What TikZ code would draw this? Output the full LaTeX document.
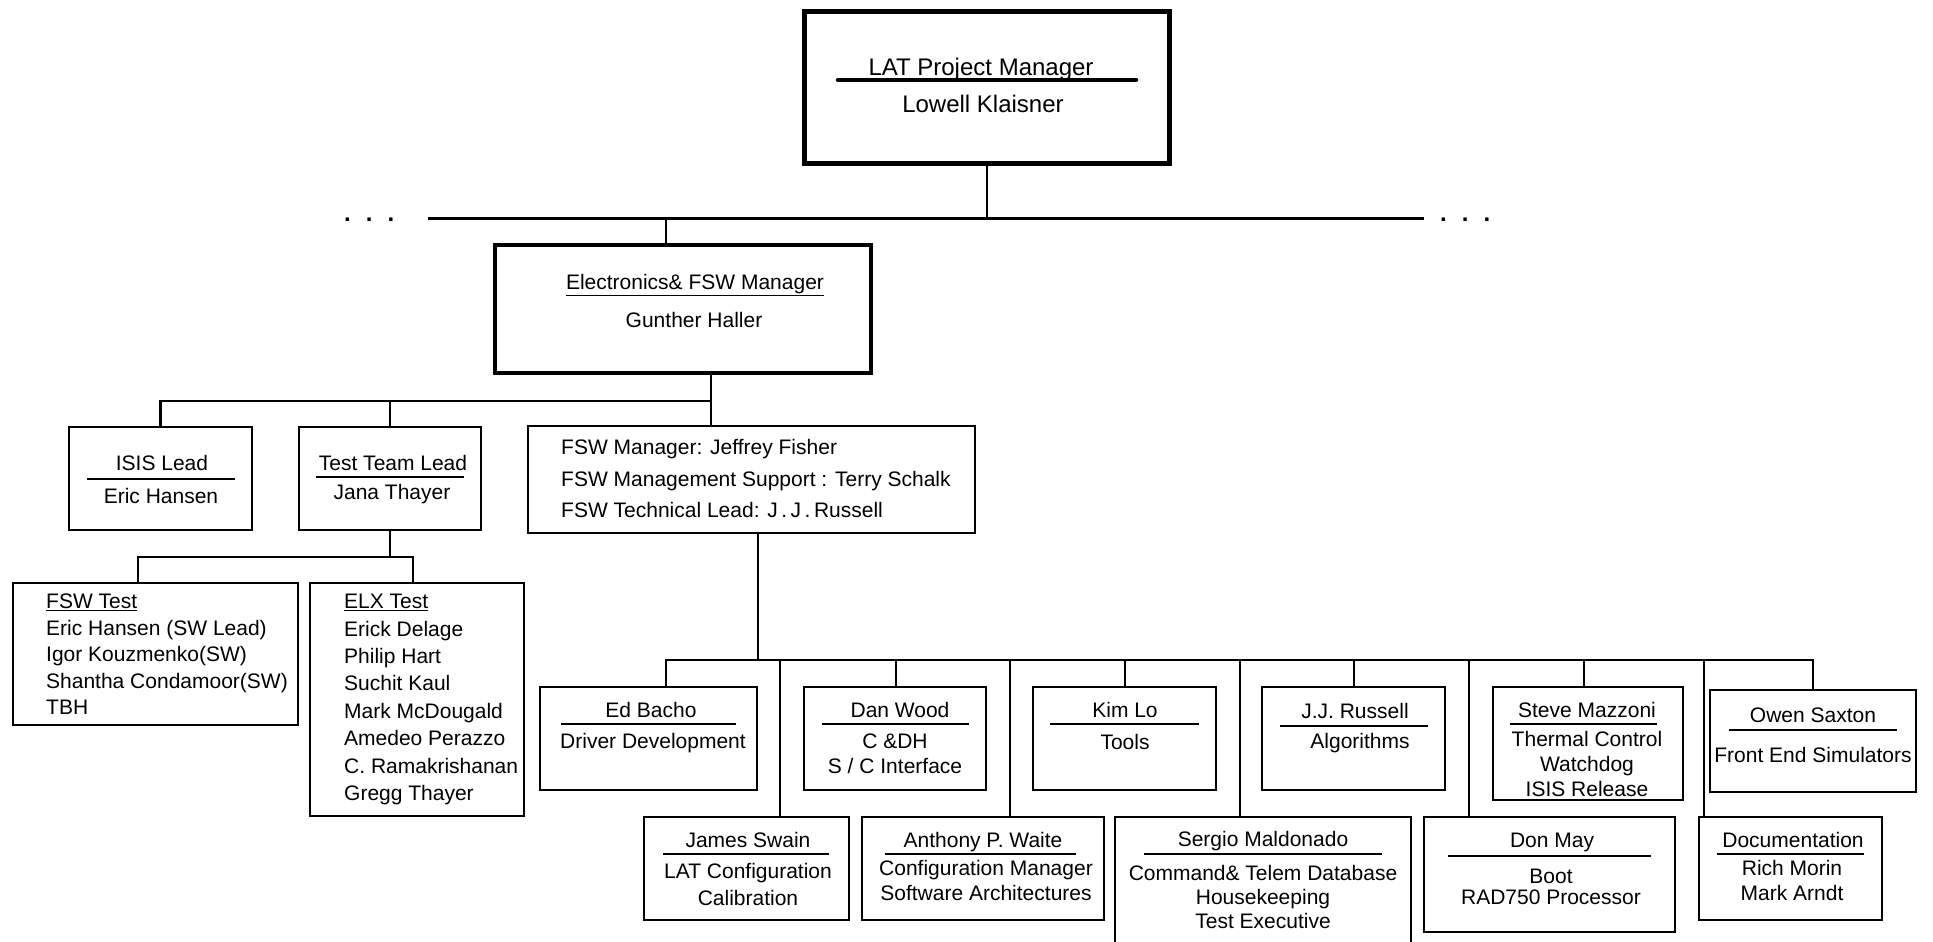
\documentclass[tikz,border=0pt]{standalone}
\usepackage{fontspec}
\setmainfont{Liberation Sans}
\usetikzlibrary{positioning}
\tikzset{
  orgbox/.style={draw, line width=2.3pt, inner sep=0pt},
  headbox/.style={draw, line width=5pt, inner sep=0pt},
  wire/.style={line width=2.3pt},
  sep/.style={line width=1.8pt},
  txt/.style={inner sep=0pt, font=\fontsize{21}{25}\selectfont},
}

\begin{document}
\begin{tikzpicture}[x=1pt, y=-1pt]
  \useasboundingbox (0,0) rectangle (1933,942);

  % Top: project manager
  \node[headbox, minimum width=365pt, minimum height=152pt] (lat) at (987,87.5) {};
  \node[txt, anchor=base, font=\fontsize{24}{28}\selectfont] (latT) at (981,76) {LAT Project Manager};
  \draw[line width=4.5pt, line cap=round] (838,80) -- (1136,80);
  \node[txt, anchor=base, font=\fontsize{24}{28}\selectfont] (latN) at (983,112) {Lowell Klaisner};

  % Top bus with the elided branches
  \coordinate (topbusL) at (428,218);
  \coordinate (topbusR) at (1424,218);
  \coordinate (jElec) at (666,218);
  \draw[line width=3pt] (topbusL) -- (topbusR);
  \draw[wire] (lat.south) -- (lat.south |- topbusL);
  \node[txt, anchor=base west, font=\bfseries\fontsize{24}{28}\selectfont] (dotsL) at (344,221) {.\hspace{15pt}.\hspace{15pt}.};
  \node[txt, anchor=base west, font=\bfseries\fontsize{24}{28}\selectfont] (dotsR) at (1440,221) {.\hspace{15pt}.\hspace{15pt}.};

  % Electronics & FSW manager
  \node[orgbox, line width=4pt, minimum width=376pt, minimum height=128pt] (elec) at (683,309) {};
  \node[txt, anchor=base] (elecT) at (695,289) {\underline{Electronics\& FSW Manager}};
  \node[txt, anchor=base] (elecN) at (694,327) {Gunther Haller};
  \draw[wire] (jElec) -- (elec.north -| jElec);

  % Second level
  \node[orgbox, minimum width=183pt, minimum height=103pt] (isis) at (160.5,478.5) {};
  \node[txt, anchor=base] (isisT) at (162,470) {ISIS Lead};
  \draw[sep] (87,479) -- (235,479);
  \node[txt, anchor=base] (isisN) at (161,503) {Eric Hansen};

  \node[orgbox, minimum width=182pt, minimum height=103pt] (test) at (390,478.5) {};
  \node[txt, anchor=base] (testT) at (393,470) {Test Team Lead};
  \draw[sep] (316,477) -- (464,477);
  \node[txt, anchor=base] (testN) at (392,499) {Jana Thayer};

  \node[orgbox, minimum width=447pt, minimum height=107pt] (fswmgr) at (751.5,479.5) {};
  \node[txt, anchor=north west, align=left, font=\fontsize{21}{31.7}\selectfont] (fswmgrT) at (561,439)
    {FSW Manager: Jeffrey Fisher\\FSW Management Support : Terry Schalk\\FSW Technical Lead: J\,.\,J\,.\,Russell};

  \coordinate (jMid) at (711,401);
  \draw[wire] (elec.south -| jMid) -- (fswmgr.north -| jMid);
  \draw[wire] (jMid) -| (isis.north);
  \draw[wire] (test.north |- jMid) -- (test.north);

  % Test teams
  \node[orgbox, minimum width=285pt, minimum height=142pt] (fswtest) at (155.5,654) {};
  \node[txt, anchor=north west, align=left, font=\fontsize{21}{26.5}\selectfont] (fswtestT) at (46,594)
    {\underline{FSW Test}\\Eric Hansen (SW Lead)\\Igor Kouzmenko(SW)\\Shantha Condamoor(SW)\\TBH};
  \node[orgbox, minimum width=214pt, minimum height=233pt] (elx) at (417,699.5) {};
  \node[txt, anchor=north west, align=left, font=\fontsize{21}{27.4}\selectfont] (elxT) at (344,594)
    {\underline{ELX Test}\\Erick Delage\\Philip Hart\\Suchit Kaul\\Mark McDougald\\Amedeo Perazzo\\C. Ramakrishanan\\Gregg Thayer};

  \coordinate (jTestL) at (138,557);
  \coordinate (jTestR) at (413,557);
  \draw[wire] (test.south) -- (test.south |- jTestL);
  \draw[wire] (fswtest.north -| jTestL) |- (jTestR) -- (elx.north -| jTestR);

  % FSW teams, upper row
  \node[orgbox, minimum width=217pt, minimum height=103pt] (ed) at (648.5,738.5) {};
  \node[txt, anchor=base] (edT) at (651,717) {Ed Bacho};
  \draw[sep] (561,724) -- (736,724);
  \node[txt, anchor=base] (edB) at (653,748) {Driver Development};

  \node[orgbox, minimum width=182pt, minimum height=103pt] (dan) at (895,738.5) {};
  \node[txt, anchor=base] (danT) at (900,717) {Dan Wood};
  \draw[sep] (822,724) -- (969,724);
  \node[txt, anchor=north, align=center] (danB) at (895,734) {C \&DH\\S / C Interface};

  \node[orgbox, minimum width=183pt, minimum height=103pt] (kim) at (1124.5,738.5) {};
  \node[txt, anchor=base] (kimT) at (1125,717) {Kim Lo};
  \draw[sep] (1050,724) -- (1199,724);
  \node[txt, anchor=base] (kimB) at (1125,749) {Tools};

  \node[orgbox, minimum width=183pt, minimum height=103pt] (jj) at (1353.5,738.5) {};
  \node[txt, anchor=base] (jjT) at (1355,718) {J.J. Russell};
  \draw[sep] (1280,726) -- (1428,726);
  \node[txt, anchor=base] (jjB) at (1360,748) {Algorithms};

  \node[orgbox, minimum width=190pt, minimum height=113pt] (steve) at (1588,743.5) {};
  \node[txt, anchor=base] (steveT) at (1587,717) {Steve Mazzoni};
  \draw[sep] (1510,724) -- (1657,724);
  \node[txt, anchor=north, align=center, font=\fontsize{21}{24.8}\selectfont] (steveB) at (1587,731)
    {Thermal Control\\Watchdog\\ISIS Release};

  \node[orgbox, minimum width=206pt, minimum height=102pt] (owen) at (1813,741) {};
  \node[txt, anchor=base] (owenT) at (1813,722) {Owen Saxton};
  \draw[sep] (1729,730) -- (1897,730);
  \node[txt, anchor=base] (owenB) at (1813,762) {Front End Simulators};

  % FSW teams, lower row
  \node[orgbox, minimum width=205pt, minimum height=103pt] (james) at (746.5,868.5) {};
  \node[txt, anchor=base] (jamesT) at (748,847) {James Swain};
  \draw[sep] (663,854) -- (829,854);
  \node[txt, anchor=north, align=center, font=\fontsize{21}{27.3}\selectfont] (jamesB) at (748,863)
    {LAT Configuration\\Calibration};

  \node[orgbox, minimum width=242pt, minimum height=103pt] (anthony) at (983,868.5) {};
  \node[txt, anchor=base] (anthonyT) at (983,847) {Anthony P. Waite};
  \draw[sep] (885,854) -- (1076,854);
  \node[txt, anchor=north, align=center] (anthonyB) at (986,860)
    {Configuration Manager\\Software Architectures};

  \node[orgbox, minimum width=296pt, minimum height=163pt] (sergio) at (1263,898.5) {};
  \node[txt, anchor=base] (sergioT) at (1263,846) {Sergio Maldonado};
  \draw[sep] (1144,854) -- (1382,854);
  \node[txt, anchor=north, align=center, font=\fontsize{21}{24}\selectfont] (sergioB) at (1263,865)
    {Command\& Telem Database\\Housekeeping\\Test Executive};

  \node[orgbox, minimum width=251pt, minimum height=115pt] (don) at (1549.5,874.5) {};
  \node[txt, anchor=base] (donT) at (1552,847) {Don May};
  \draw[sep] (1448,856) -- (1651,856);
  \node[txt, anchor=north, align=center, font=\fontsize{21}{20.7}\selectfont] (donB) at (1551,869)
    {Boot\\RAD750 Processor};

  \node[orgbox, minimum width=183pt, minimum height=103pt] (doc) at (1790.5,868.5) {};
  \node[txt, anchor=base] (docT) at (1793,847) {Documentation};
  \draw[sep] (1717,854) -- (1864,854);
  \node[txt, anchor=north, align=center, font=\fontsize{21}{25.3}\selectfont] (docB) at (1792,860)
    {Rich Morin\\Mark Arndt};

  % Bus under the FSW manager
  \coordinate (jLow) at (758,660);
  \coordinate (busL) at (666,660);
  \coordinate (busR) at (1813,660);
  \draw[wire] (fswmgr.south -| jLow) -- (jLow);
  \draw[wire] (ed.north -| busL) |- (busR) -- (owen.north);
  \foreach \n/\x in {dan/896, kim/1125, jj/1354, steve/1584,
                     james/780, anthony/1010, sergio/1240, don/1469, doc/1704}
    \draw[wire] (\x,0 |- busL) -- (\x,0 |- \n.north);
\end{tikzpicture}
\end{document}
